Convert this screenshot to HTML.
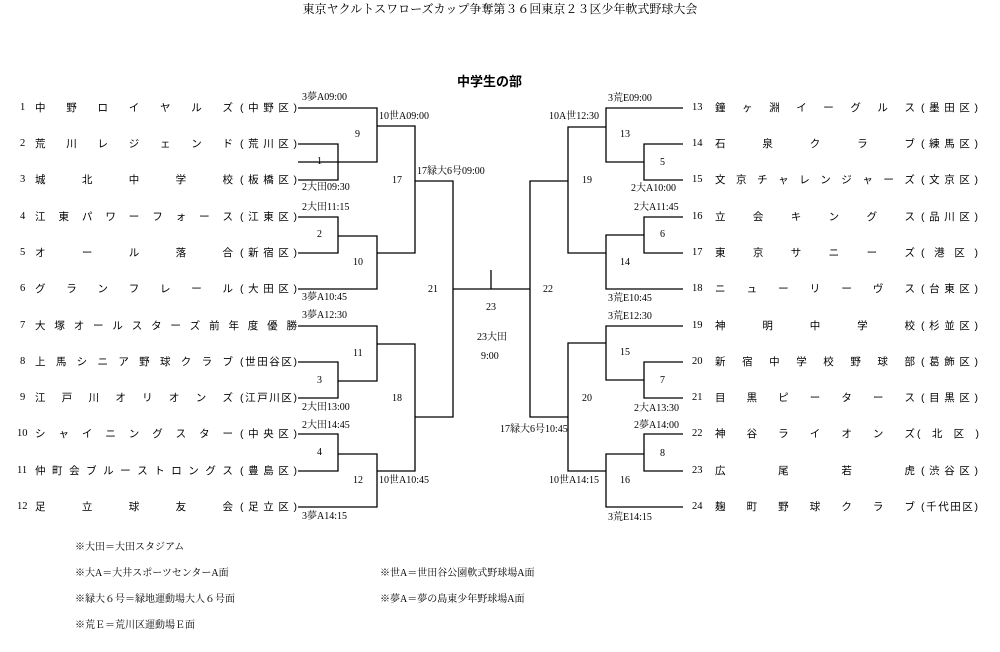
<!DOCTYPE html>
<html><head><meta charset="utf-8"><style>
body{margin:0;background:#fff}
#p{position:relative;width:1000px;height:652px;overflow:hidden;font-family:"Liberation Serif","Noto Serif CJK JP",serif;color:#000}
.t{position:absolute;font-size:10px;line-height:12px;white-space:nowrap}
.n{position:absolute;font-size:10.5px;line-height:14px;display:flex;justify-content:space-between;font-family:"Liberation Sans","Noto Sans CJK JP",sans-serif}
.n i{font-style:normal}
.L{left:35px;width:198px}.LD{left:240px;width:57px}.LW{left:35px;width:262px}
.R{left:715px;width:200px}.RD{left:921px;width:57px}
.no{position:absolute;font-size:10.5px;line-height:14px}
svg{position:absolute;left:0;top:0}
</style></head><body><div id="p">
<svg width="1000" height="652" stroke="#000" stroke-width="1.3" fill="none">
<path d="M298 108H377V162H298M298 144H338V180H298M377 126H415V253H377M298 217H338V253H298M338 236H377V289H298M415 181H453V417H415M453 289H530M491 270V289"/>
<path d="M298 326H377V381H338M298 362H338V398H298M377 344H415V471H377M298 434H338V471H298M338 454H377V507H298"/>
<path d="M683 108H606V162H644M683 144H644V180H683M606 127H568V253H606M683 217H644V253H683M644 235H606V289H683M568 181H530V417H568"/>
<path d="M683 326H606V380H644M683 362H644V398H683M606 343H568V471H606M683 434H644V471H683M644 454H606V507H683"/>
</svg>
<div class="t" style="left:0;width:1000px;text-align:center;top:2px;font-size:12px;line-height:14px">東京ヤクルトスワローズカップ争奪第３６回東京２３区少年軟式野球大会</div>
<div class="t" style="left:457px;top:74px;font-size:13px;line-height:16px;font-weight:bold;font-family:'Liberation Sans','Noto Sans CJK JP',sans-serif">中学生の部</div>

<div class="no" style="left:20px;top:101px">1</div><div class="n L" style="top:101px"><i>中</i><i>野</i><i>ロ</i><i>イ</i><i>ヤ</i><i>ル</i><i>ズ</i></div><div class="n LD" style="top:101px"><i>(</i><i>中</i><i>野</i><i>区</i><i>)</i></div>
<div class="no" style="left:20px;top:137px">2</div><div class="n L" style="top:137px"><i>荒</i><i>川</i><i>レ</i><i>ジ</i><i>ェ</i><i>ン</i><i>ド</i></div><div class="n LD" style="top:137px"><i>(</i><i>荒</i><i>川</i><i>区</i><i>)</i></div>
<div class="no" style="left:20px;top:173px">3</div><div class="n L" style="top:173px"><i>城</i><i>北</i><i>中</i><i>学</i><i>校</i></div><div class="n LD" style="top:173px"><i>(</i><i>板</i><i>橋</i><i>区</i><i>)</i></div>
<div class="no" style="left:20px;top:210px">4</div><div class="n L" style="top:210px"><i>江</i><i>東</i><i>パ</i><i>ワ</i><i>ー</i><i>フ</i><i>ォ</i><i>ー</i><i>ス</i></div><div class="n LD" style="top:210px"><i>(</i><i>江</i><i>東</i><i>区</i><i>)</i></div>
<div class="no" style="left:20px;top:246px">5</div><div class="n L" style="top:246px"><i>オ</i><i>ー</i><i>ル</i><i>落</i><i>合</i></div><div class="n LD" style="top:246px"><i>(</i><i>新</i><i>宿</i><i>区</i><i>)</i></div>
<div class="no" style="left:20px;top:282px">6</div><div class="n L" style="top:282px"><i>グ</i><i>ラ</i><i>ン</i><i>フ</i><i>レ</i><i>ー</i><i>ル</i></div><div class="n LD" style="top:282px"><i>(</i><i>大</i><i>田</i><i>区</i><i>)</i></div>
<div class="no" style="left:20px;top:319px">7</div><div class="n LW" style="top:319px"><i>大</i><i>塚</i><i>オ</i><i>ー</i><i>ル</i><i>ス</i><i>タ</i><i>ー</i><i>ズ</i><i>前</i><i>年</i><i>度</i><i>優</i><i>勝</i></div>
<div class="no" style="left:20px;top:355px">8</div><div class="n L" style="top:355px"><i>上</i><i>馬</i><i>シ</i><i>ニ</i><i>ア</i><i>野</i><i>球</i><i>ク</i><i>ラ</i><i>ブ</i></div><div class="n LD" style="top:355px"><i>(</i><i>世</i><i>田</i><i>谷</i><i>区</i><i>)</i></div>
<div class="no" style="left:20px;top:391px">9</div><div class="n L" style="top:391px"><i>江</i><i>戸</i><i>川</i><i>オ</i><i>リ</i><i>オ</i><i>ン</i><i>ズ</i></div><div class="n LD" style="top:391px"><i>(</i><i>江</i><i>戸</i><i>川</i><i>区</i><i>)</i></div>
<div class="no" style="left:17px;top:427px">10</div><div class="n L" style="top:427px"><i>シ</i><i>ャ</i><i>イ</i><i>ニ</i><i>ン</i><i>グ</i><i>ス</i><i>タ</i><i>ー</i></div><div class="n LD" style="top:427px"><i>(</i><i>中</i><i>央</i><i>区</i><i>)</i></div>
<div class="no" style="left:17px;top:464px">11</div><div class="n L" style="top:464px"><i>仲</i><i>町</i><i>会</i><i>ブ</i><i>ル</i><i>ー</i><i>ス</i><i>ト</i><i>ロ</i><i>ン</i><i>グ</i><i>ス</i></div><div class="n LD" style="top:464px"><i>(</i><i>豊</i><i>島</i><i>区</i><i>)</i></div>
<div class="no" style="left:17px;top:500px">12</div><div class="n L" style="top:500px"><i>足</i><i>立</i><i>球</i><i>友</i><i>会</i></div><div class="n LD" style="top:500px"><i>(</i><i>足</i><i>立</i><i>区</i><i>)</i></div>

<div class="no" style="left:692px;top:101px">13</div><div class="n R" style="top:101px"><i>鐘</i><i>ヶ</i><i>淵</i><i>イ</i><i>ー</i><i>グ</i><i>ル</i><i>ス</i></div><div class="n RD" style="top:101px"><i>(</i><i>墨</i><i>田</i><i>区</i><i>)</i></div>
<div class="no" style="left:692px;top:137px">14</div><div class="n R" style="top:137px"><i>石</i><i>泉</i><i>ク</i><i>ラ</i><i>ブ</i></div><div class="n RD" style="top:137px"><i>(</i><i>練</i><i>馬</i><i>区</i><i>)</i></div>
<div class="no" style="left:692px;top:173px">15</div><div class="n R" style="top:173px"><i>文</i><i>京</i><i>チ</i><i>ャ</i><i>レ</i><i>ン</i><i>ジ</i><i>ャ</i><i>ー</i><i>ズ</i></div><div class="n RD" style="top:173px"><i>(</i><i>文</i><i>京</i><i>区</i><i>)</i></div>
<div class="no" style="left:692px;top:210px">16</div><div class="n R" style="top:210px"><i>立</i><i>会</i><i>キ</i><i>ン</i><i>グ</i><i>ス</i></div><div class="n RD" style="top:210px"><i>(</i><i>品</i><i>川</i><i>区</i><i>)</i></div>
<div class="no" style="left:692px;top:246px">17</div><div class="n R" style="top:246px"><i>東</i><i>京</i><i>サ</i><i>ニ</i><i>ー</i><i>ズ</i></div><div class="n RD" style="top:246px"><i>(</i><i>港</i><i>区</i><i>)</i></div>
<div class="no" style="left:692px;top:282px">18</div><div class="n R" style="top:282px"><i>ニ</i><i>ュ</i><i>ー</i><i>リ</i><i>ー</i><i>ヴ</i><i>ス</i></div><div class="n RD" style="top:282px"><i>(</i><i>台</i><i>東</i><i>区</i><i>)</i></div>
<div class="no" style="left:692px;top:319px">19</div><div class="n R" style="top:319px"><i>神</i><i>明</i><i>中</i><i>学</i><i>校</i></div><div class="n RD" style="top:319px"><i>(</i><i>杉</i><i>並</i><i>区</i><i>)</i></div>
<div class="no" style="left:692px;top:355px">20</div><div class="n R" style="top:355px"><i>新</i><i>宿</i><i>中</i><i>学</i><i>校</i><i>野</i><i>球</i><i>部</i></div><div class="n RD" style="top:355px"><i>(</i><i>葛</i><i>飾</i><i>区</i><i>)</i></div>
<div class="no" style="left:692px;top:391px">21</div><div class="n R" style="top:391px"><i>目</i><i>黒</i><i>ピ</i><i>ー</i><i>タ</i><i>ー</i><i>ス</i></div><div class="n RD" style="top:391px"><i>(</i><i>目</i><i>黒</i><i>区</i><i>)</i></div>
<div class="no" style="left:692px;top:427px">22</div><div class="n R" style="top:427px"><i>神</i><i>谷</i><i>ラ</i><i>イ</i><i>オ</i><i>ン</i><i>ズ</i></div><div class="n" style="left:917px;width:62px;top:427px"><i>(</i><i>北</i><i>区</i><i>)</i></div>
<div class="no" style="left:692px;top:464px">23</div><div class="n R" style="top:464px"><i>広</i><i>尾</i><i>若</i><i>虎</i></div><div class="n RD" style="top:464px"><i>(</i><i>渋</i><i>谷</i><i>区</i><i>)</i></div>
<div class="no" style="left:692px;top:500px">24</div><div class="n R" style="top:500px"><i>麹</i><i>町</i><i>野</i><i>球</i><i>ク</i><i>ラ</i><i>ブ</i></div><div class="n RD" style="top:500px"><i>(</i><i>千</i><i>代</i><i>田</i><i>区</i><i>)</i></div>

<div class="t" style="left:302px;top:92px">3夢A09:00</div>
<div class="t" style="left:379px;top:111px">10世A09:00</div>
<div class="t" style="left:355px;top:129px">9</div>
<div class="t" style="left:317px;top:156px">1</div>
<div class="t" style="left:302px;top:182px">2大田09:30</div>
<div class="t" style="left:392px;top:175px">17</div>
<div class="t" style="left:417px;top:166px">17緑大6号09:00</div>
<div class="t" style="left:302px;top:202px">2大田11:15</div>
<div class="t" style="left:317px;top:229px">2</div>
<div class="t" style="left:353px;top:257px">10</div>
<div class="t" style="left:428px;top:284px">21</div>
<div class="t" style="left:302px;top:292px">3夢A10:45</div>
<div class="t" style="left:486px;top:302px">23</div>
<div class="t" style="left:477px;top:332px">23大田</div>
<div class="t" style="left:481px;top:351px">9:00</div>
<div class="t" style="left:302px;top:310px">3夢A12:30</div>
<div class="t" style="left:353px;top:348px">11</div>
<div class="t" style="left:317px;top:375px">3</div>
<div class="t" style="left:302px;top:402px">2大田13:00</div>
<div class="t" style="left:392px;top:393px">18</div>
<div class="t" style="left:302px;top:420px">2大田14:45</div>
<div class="t" style="left:317px;top:447px">4</div>
<div class="t" style="left:353px;top:475px">12</div>
<div class="t" style="left:379px;top:475px">10世A10:45</div>
<div class="t" style="left:302px;top:511px">3夢A14:15</div>

<div class="t" style="left:608px;top:93px">3荒E09:00</div>
<div class="t" style="left:549px;top:111px">10A世12:30</div>
<div class="t" style="left:620px;top:129px">13</div>
<div class="t" style="left:660px;top:157px">5</div>
<div class="t" style="left:631px;top:183px">2大A10:00</div>
<div class="t" style="left:582px;top:175px">19</div>
<div class="t" style="left:634px;top:202px">2大A11:45</div>
<div class="t" style="left:660px;top:229px">6</div>
<div class="t" style="left:620px;top:257px">14</div>
<div class="t" style="left:543px;top:284px">22</div>
<div class="t" style="left:608px;top:293px">3荒E10:45</div>
<div class="t" style="left:608px;top:311px">3荒E12:30</div>
<div class="t" style="left:620px;top:347px">15</div>
<div class="t" style="left:660px;top:375px">7</div>
<div class="t" style="left:582px;top:393px">20</div>
<div class="t" style="left:634px;top:403px">2大A13:30</div>
<div class="t" style="left:500px;top:424px">17緑大6号10:45</div>
<div class="t" style="left:634px;top:420px">2夢A14:00</div>
<div class="t" style="left:660px;top:448px">8</div>
<div class="t" style="left:549px;top:475px">10世A14:15</div>
<div class="t" style="left:620px;top:475px">16</div>
<div class="t" style="left:608px;top:512px">3荒E14:15</div>

<div class="t" style="left:75px;top:542px">※大田＝大田スタジアム</div>
<div class="t" style="left:75px;top:568px">※大A＝大井スポーツセンターA面</div>
<div class="t" style="left:380px;top:568px">※世A＝世田谷公園軟式野球場A面</div>
<div class="t" style="left:75px;top:594px">※緑大６号＝緑地運動場大人６号面</div>
<div class="t" style="left:380px;top:594px">※夢A＝夢の島東少年野球場A面</div>
<div class="t" style="left:75px;top:620px">※荒Ｅ＝荒川区運動場Ｅ面</div>
</div></body></html>
